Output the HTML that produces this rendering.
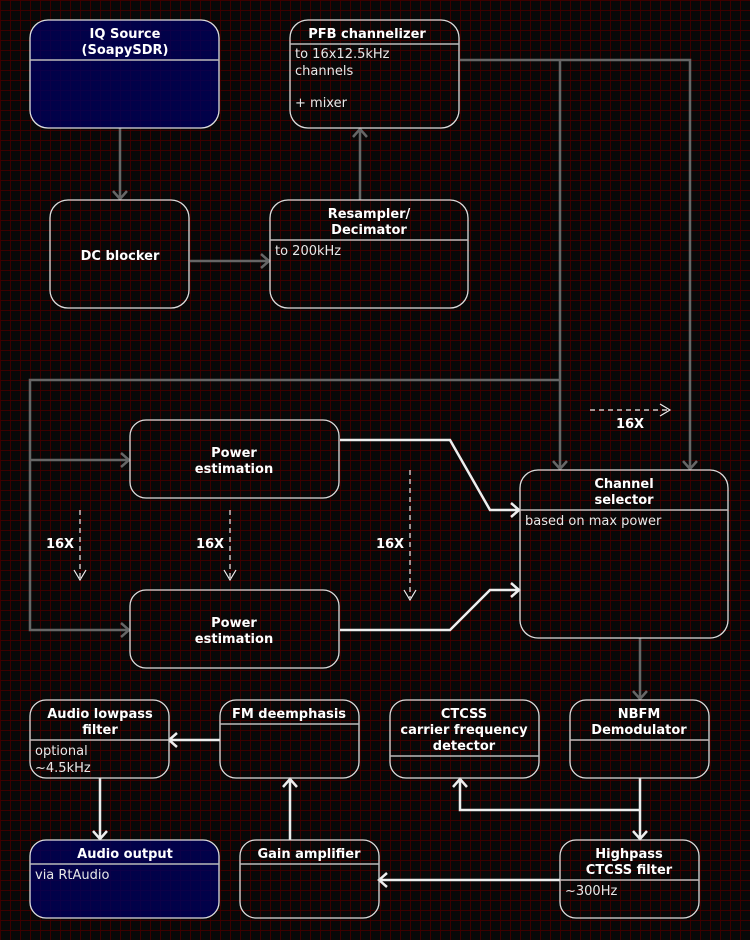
<!DOCTYPE html>
<html><head><meta charset="utf-8"><style>
html,body{margin:0;padding:0;background:#080808;}
svg{display:block;}
text{font-family:"DejaVu Sans","Liberation Sans",sans-serif;font-size:13px;fill:#eee;}
.t{font-weight:bold;text-anchor:middle;fill:#fff;}
.b{fill:#e8e8e8;}
.box{fill:none;stroke:#ddd;stroke-width:1.3;}
.nav{fill:rgba(0,0,90,0.8);stroke:#ddd;stroke-width:1.3;}
.sep{stroke:#bbb;stroke-width:1.5;}
.g{fill:none;stroke:#666;stroke-width:2.5;}
.w{fill:none;stroke:#eee;stroke-width:2.5;}
.d{fill:none;stroke:#eee;stroke-width:1.2;stroke-dasharray:5,4;}
.da{fill:none;stroke:#eee;stroke-width:1.2;}
</style></head><body>
<svg width="750" height="940" xmlns="http://www.w3.org/2000/svg">
<defs>
<pattern id="grid" width="10" height="10" patternUnits="userSpaceOnUse">
<path d="M0 0.5H10M0.5 0V10" stroke="#3c0000" stroke-width="1" fill="none"/>
</pattern>
</defs>
<rect width="750" height="940" fill="#080808"/>
<rect width="750" height="940" fill="url(#grid)"/>

<path class="g" d="M120 128V199M113 191L120 199L127 191"/>
<path class="g" d="M190 261H269M261 254L269 261L261 268"/>
<path class="g" d="M360 200V129M353 137L360 129L367 137"/>
<path class="g" d="M460 60H690V469M683 461L690 469L697 461"/>
<path class="g" d="M560 60V469M553 461L560 469L567 461"/>
<path class="g" d="M560 380H30V630H129M121 623L129 630L121 637"/>
<path class="g" d="M30 460H129M121 453L129 460L121 467"/>
<path class="g" d="M640 638V699M633 691L640 699L647 691"/>

<path class="w" d="M340 440H450L490 510H519M511 503L519 510L511 517"/>
<path class="w" d="M340 630H450L490 590H519M511 583L519 590L511 597"/>
<path class="w" d="M640 778V839M633 831L640 839L647 831"/>
<path class="w" d="M640 810H460V779M453 787L460 779L467 787"/>
<path class="w" d="M560 880H379M387 873L379 880L387 887"/>
<path class="w" d="M290 840V779M283 787L290 779L297 787"/>
<path class="w" d="M220 740H169M177 733L169 740L177 747"/>
<path class="w" d="M100 778V839M93 831L100 839L107 831"/>

<path class="d" d="M80 510V578"/><path class="da" d="M74 570L80 580L86 570"/>
<path class="d" d="M230 510V578"/><path class="da" d="M224 570L230 580L236 570"/>
<path class="d" d="M410 470V598"/><path class="da" d="M404 590L410 600L416 590"/>
<path class="d" d="M590 410H668"/><path class="da" d="M660 404L670 410L660 416"/>
<text class="t" x="60" y="548">16X</text>
<text class="t" x="210" y="548">16X</text>
<text class="t" x="390" y="548">16X</text>
<text class="t" x="630" y="428">16X</text>

<rect class="nav" x="30" y="20" width="189" height="108" rx="18"/>
<line class="sep" x1="30" y1="60" x2="219" y2="60"/>
<text class="t" x="125" y="38">IQ Source</text>
<text class="t" x="125" y="54">(SoapySDR)</text>

<rect class="box" x="290" y="20" width="169" height="108" rx="18"/>
<line class="sep" x1="290" y1="44" x2="459" y2="44"/>
<text class="t" x="367" y="38">PFB channelizer</text>
<text class="b" x="295" y="58">to 16x12.5kHz</text>
<text class="b" x="295" y="75">channels</text>
<text class="b" x="295" y="107">+ mixer</text>

<rect class="box" x="50" y="200" width="139" height="108" rx="18"/>
<text class="t" x="120" y="260">DC blocker</text>

<rect class="box" x="270" y="200" width="198" height="108" rx="18"/>
<line class="sep" x1="270" y1="240" x2="468" y2="240"/>
<text class="t" x="369" y="218">Resampler/</text>
<text class="t" x="369" y="234">Decimator</text>
<text class="b" x="275" y="255">to 200kHz</text>

<rect class="box" x="130" y="420" width="209" height="78" rx="16"/>
<text class="t" x="234" y="457">Power</text>
<text class="t" x="234" y="473">estimation</text>
<rect class="box" x="130" y="590" width="209" height="78" rx="16"/>
<text class="t" x="234" y="627">Power</text>
<text class="t" x="234" y="643">estimation</text>

<rect class="box" x="520" y="470" width="208" height="168" rx="18"/>
<line class="sep" x1="520" y1="510" x2="728" y2="510"/>
<text class="t" x="624" y="488">Channel</text>
<text class="t" x="624" y="504">selector</text>
<text class="b" x="525" y="525">based on max power</text>

<rect class="box" x="30" y="700" width="139" height="78" rx="16"/>
<line class="sep" x1="30" y1="740" x2="169" y2="740"/>
<text class="t" x="100" y="718">Audio lowpass</text>
<text class="t" x="100" y="734">filter</text>
<text class="b" x="35" y="755">optional</text>
<text class="b" x="35" y="772">~4.5kHz</text>

<rect class="box" x="220" y="700" width="139" height="78" rx="16"/>
<line class="sep" x1="220" y1="724" x2="359" y2="724"/>
<text class="t" x="289" y="718">FM deemphasis</text>

<rect class="box" x="390" y="700" width="149" height="78" rx="16"/>
<line class="sep" x1="390" y1="756" x2="539" y2="756"/>
<text class="t" x="464" y="718">CTCSS</text>
<text class="t" x="464" y="734">carrier frequency</text>
<text class="t" x="464" y="750">detector</text>

<rect class="box" x="570" y="700" width="139" height="78" rx="16"/>
<line class="sep" x1="570" y1="740" x2="709" y2="740"/>
<text class="t" x="639" y="718">NBFM</text>
<text class="t" x="639" y="734">Demodulator</text>

<rect class="nav" x="30" y="840" width="189" height="78" rx="16"/>
<line class="sep" x1="30" y1="864" x2="219" y2="864"/>
<text class="t" x="125" y="858">Audio output</text>
<text class="b" x="35" y="879">via RtAudio</text>

<rect class="box" x="240" y="840" width="139" height="78" rx="16"/>
<line class="sep" x1="240" y1="864" x2="379" y2="864"/>
<text class="t" x="309" y="858">Gain amplifier</text>

<rect class="box" x="560" y="840" width="139" height="78" rx="16"/>
<line class="sep" x1="560" y1="880" x2="699" y2="880"/>
<text class="t" x="629" y="858">Highpass</text>
<text class="t" x="629" y="874">CTCSS filter</text>
<text class="b" x="565" y="895">~300Hz</text>
</svg>
</body></html>
